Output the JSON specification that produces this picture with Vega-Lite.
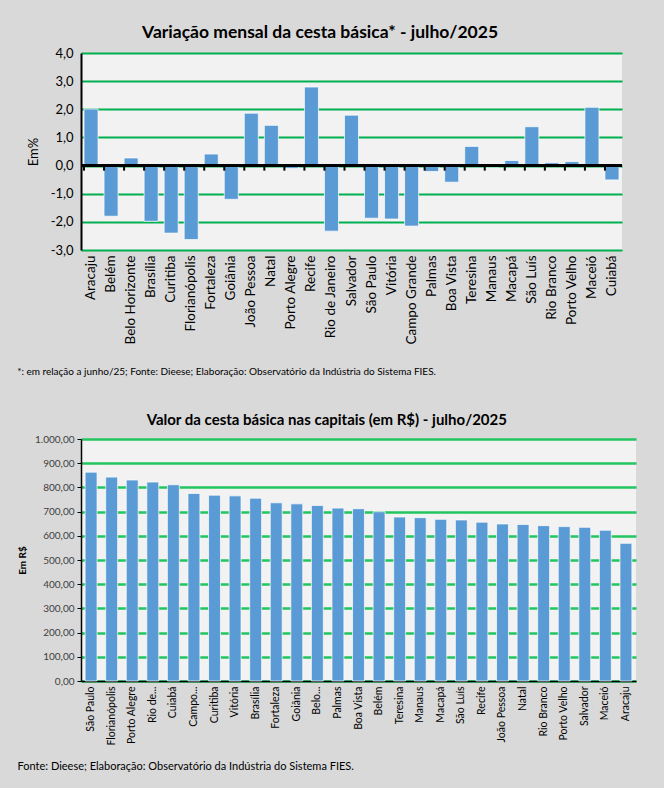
{
  "$schema": "https://vega.github.io/schema/vega-lite/v6.json",
  "background": "#d9d9d9",
  "padding": {"left": 17, "top": 23, "right": 28, "bottom": 20},
  "config": {
    "locale": {"number": {"decimal": ",", "thousands": ".", "grouping": [3], "currency": ["R$", ""], "minus": "-"}},
    "font": "Lato",
    "view": {"fill": "#f2f2f2", "stroke": null},
    "axis": {"labelFont": "Lato", "titleFont": "Lato"}
  },
  "datasets": {
    "variacao": [
      {"cidade": "Aracaju", "var": 2.01},
      {"cidade": "Belém", "var": -1.80},
      {"cidade": "Belo Horizonte", "var": 0.27},
      {"cidade": "Brasília", "var": -1.98},
      {"cidade": "Curitiba", "var": -2.40},
      {"cidade": "Florianópolis", "var": -2.63},
      {"cidade": "Fortaleza", "var": 0.41},
      {"cidade": "Goiânia", "var": -1.20},
      {"cidade": "João Pessoa", "var": 1.86},
      {"cidade": "Natal", "var": 1.43},
      {"cidade": "Porto Alegre", "var": -0.10},
      {"cidade": "Recife", "var": 2.79},
      {"cidade": "Rio de Janeiro", "var": -2.33},
      {"cidade": "Salvador", "var": 1.79},
      {"cidade": "São Paulo", "var": -1.87},
      {"cidade": "Vitória", "var": -1.90},
      {"cidade": "Campo Grande", "var": -2.15},
      {"cidade": "Palmas", "var": -0.21},
      {"cidade": "Boa Vista", "var": -0.59},
      {"cidade": "Teresina", "var": 0.68},
      {"cidade": "Manaus", "var": -0.05},
      {"cidade": "Macapá", "var": 0.18},
      {"cidade": "São Luís", "var": 1.38},
      {"cidade": "Rio Branco", "var": 0.10},
      {"cidade": "Porto Velho", "var": 0.14},
      {"cidade": "Maceió", "var": 2.07},
      {"cidade": "Cuiabá", "var": -0.51}
    ],
    "valor": [
      {"cidade": "São Paulo", "valor": 863.0},
      {"cidade": "Florianópolis", "valor": 842.5},
      {"cidade": "Porto Alegre", "valor": 830.5},
      {"cidade": "Rio de Janeiro", "valor": 822.0},
      {"cidade": "Cuiabá", "valor": 811.0},
      {"cidade": "Campo Grande", "valor": 775.0},
      {"cidade": "Curitiba", "valor": 768.0},
      {"cidade": "Vitória", "valor": 765.0},
      {"cidade": "Brasília", "valor": 755.5},
      {"cidade": "Fortaleza", "valor": 736.5},
      {"cidade": "Goiânia", "valor": 732.0},
      {"cidade": "Belo Horizonte", "valor": 725.5},
      {"cidade": "Palmas", "valor": 714.5},
      {"cidade": "Boa Vista", "valor": 712.0},
      {"cidade": "Belém", "valor": 699.5},
      {"cidade": "Teresina", "valor": 677.5},
      {"cidade": "Manaus", "valor": 675.0},
      {"cidade": "Macapá", "valor": 668.0},
      {"cidade": "São Luís", "valor": 665.5},
      {"cidade": "Recife", "valor": 656.5},
      {"cidade": "João Pessoa", "valor": 649.0},
      {"cidade": "Natal", "valor": 647.0},
      {"cidade": "Rio Branco", "valor": 642.0},
      {"cidade": "Porto Velho", "valor": 638.0},
      {"cidade": "Salvador", "valor": 635.0},
      {"cidade": "Maceió", "valor": 623.0},
      {"cidade": "Aracaju", "valor": 569.0}
    ]
  },
  "spacing": 35,
  "vconcat": [
    {
      "title": {"text": "Variação mensal da cesta básica* - julho/2025", "fontSize": 17.5, "fontWeight": "bold", "color": "#000000", "offset": 6, "anchor": "middle"},
      "vconcat": [
        {
          "width": 541,
          "height": 197,
          "title": {"text": "*: em relação a junho/25; Fonte: Dieese; Elaboração: Observatório da Indústria do Sistema FIES.", "orient": "bottom", "anchor": "start", "dx": -10, "fontSize": 10, "fontWeight": "normal", "color": "#000000", "offset": 23},
          "data": {"name": "variacao"},
          "layer": [
            {
              "mark": {"type": "bar", "color": "#5b9bd5", "stroke": "#ffffff", "strokeOpacity": 0.7, "strokeWidth": 1},
              "encoding": {
                "x": {"field": "cidade", "type": "nominal", "sort": null, "scale": {"paddingInner": 0.3, "paddingOuter": 0.15},
                  "axis": {"title": null, "labelAngle": -90, "labelFontSize": 13.5, "labelColor": "#000000", "ticks": false, "domain": false, "labelPadding": 5, "labelLimit": 200}},
                "y": {"field": "var", "type": "quantitative", "scale": {"domain": [-3, 4], "nice": false},
                  "axis": {"title": "Em%", "titleFontSize": 13, "titleFontWeight": "normal", "titleColor": "#000000", "titlePadding": 10, "values": [-3, -2, -1, 0, 1, 2, 3, 4], "format": ".1f", "labelOverlap": false, "labelFontSize": 13, "labelColor": "#000000", "labelPadding": 8, "ticks": false, "domainColor": "#000000", "domainWidth": 2, "gridColor": "#00b050", "gridWidth": 2}}
              }
            },
            {
              "mark": {"type": "rule", "color": "#000000", "strokeWidth": 2},
              "encoding": {"y": {"datum": 0, "type": "quantitative",
                  "axis": {"title": "Em%", "titleFontSize": 13, "titleFontWeight": "normal", "titleColor": "#000000", "titlePadding": 10, "values": [-3, -2, -1, 0, 1, 2, 3, 4], "format": ".1f", "labelOverlap": false, "labelFontSize": 13, "labelColor": "#000000", "labelPadding": 8, "ticks": false, "domainColor": "#000000", "domainWidth": 2, "gridColor": "#00b050", "gridWidth": 2}}}
            },
            {
              "mark": {"type": "rule", "color": "#000000", "strokeWidth": 2},
              "encoding": {
                "x": {"field": "cidade", "type": "nominal", "sort": null, "bandPosition": 0,
                  "axis": {"title": null, "labelAngle": -90, "labelFontSize": 13.5, "labelColor": "#000000", "ticks": false, "domain": false, "labelPadding": 5, "labelLimit": 200}},
                "y": {"datum": 0, "type": "quantitative",
                  "axis": {"title": "Em%", "titleFontSize": 13, "titleFontWeight": "normal", "titleColor": "#000000", "titlePadding": 10, "values": [-3, -2, -1, 0, 1, 2, 3, 4], "format": ".1f", "labelOverlap": false, "labelFontSize": 13, "labelColor": "#000000", "labelPadding": 8, "ticks": false, "domainColor": "#000000", "domainWidth": 2, "gridColor": "#00b050", "gridWidth": 2}},
                "y2": {"datum": -0.18}
              }
            }
          ]
        }
      ]
    },
    {
      "title": {"text": "Valor da cesta básica nas capitais (em R$) - julho/2025", "fontSize": 15, "fontWeight": "bold", "color": "#000000", "offset": 6, "anchor": "middle"},
      "vconcat": [
        {
          "width": 555,
          "height": 242,
          "title": {"text": "Fonte: Dieese; Elaboração: Observatório da Indústria do Sistema FIES.", "orient": "bottom", "anchor": "start", "fontSize": 11, "fontWeight": "normal", "color": "#000000", "offset": 16},
          "data": {"name": "valor"},
          "mark": {"type": "bar", "color": "#5b9bd5", "stroke": "#ffffff", "strokeOpacity": 0.7, "strokeWidth": 1},
          "encoding": {
            "x": {"field": "cidade", "type": "nominal", "sort": null, "scale": {"paddingInner": 0.42, "paddingOuter": 0.2},
              "axis": {"title": null, "labelAngle": -90, "labelFontSize": 10.5, "labelColor": "#000000", "ticks": false, "domainColor": "#000000", "domainWidth": 1.5, "labelPadding": 5, "labelLimit": 200,
                "labelExpr": "datum.label == 'Rio de Janeiro' ? 'Rio de...' : datum.label == 'Campo Grande' ? 'Campo...' : datum.label == 'Belo Horizonte' ? 'Belo...' : datum.label"}},
            "y": {"field": "valor", "type": "quantitative", "scale": {"domain": [0, 1000], "nice": false},
              "axis": {"title": "Em R$", "titleFontSize": 10, "titleFontWeight": "bold", "titleColor": "#000000", "titlePadding": 7, "values": [0, 100, 200, 300, 400, 500, 600, 700, 800, 900, 1000], "format": ",.2f", "labelOverlap": false, "labelFontSize": 10, "labelColor": "#404040", "labelPadding": 3, "ticks": true, "tickSize": 4, "tickColor": "#000000", "domainColor": "#000000", "domainWidth": 1.5, "gridColor": "#22c55e", "gridWidth": 2.5}}
          }
        }
      ]
    }
  ]
}
